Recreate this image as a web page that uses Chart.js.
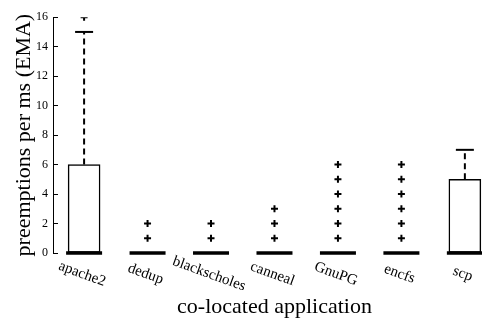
<!DOCTYPE html>
<html>
<head>
<meta charset="utf-8">
<script src="https://cdn.jsdelivr.net/npm/chart.js@4"></script>
<style>
  html, body { margin: 0; padding: 0; background: #fff; }
  #wrap { width: 482px; height: 320px; }
</style>
</head>
<body>
<div id="wrap"><canvas id="boxChart" width="482" height="320"></canvas></div>
<script>
// --- Chart data ---
const categories = ['apache2', 'dedup', 'blackscholes', 'canneal', 'GnuPG', 'encfs', 'scp'];
const boxLow = [0, 0, 0, 0, 0, 0, 0];
const boxHigh = [6, 0, 0, 0, 0, 0, 5];
const medians = [0, 0, 0, 0, 0, 0, 0];
const whiskerHigh = [15, 0, 0, 0, 0, 0, 7];
const outliers = [[16], [1, 2], [1, 2], [1, 2, 3], [1, 2, 3, 4, 5, 6], [1, 2, 3, 4, 5, 6], []];
const yTicks = [0, 2, 4, 6, 8, 10, 12, 14, 16];

const SERIF = '"Liberation Serif", "DejaVu Serif", serif';

document.addEventListener('DOMContentLoaded', () => {
    if (typeof Chart === 'undefined') {
        console.error('Chart.js failed to load.');
        return;
    }

    // category i sits at x = i + 1 on a linear axis
    const boxData = [];
    const medianData = [];
    const capData = [];
    const outlierData = [];
    const whiskerSets = [];

    categories.forEach((name, i) => {
        const x = i + 1;
        if (boxHigh[i] > boxLow[i]) boxData.push({ x, y: [boxLow[i], boxHigh[i]] });
        medianData.push({ x, y: medians[i] });
        if (whiskerHigh[i] > boxHigh[i]) {
            capData.push({ x, y: whiskerHigh[i] });
            whiskerSets.push({
                type: 'line',
                data: [{ x, y: boxHigh[i] }, { x, y: whiskerHigh[i] }],
                showLine: true,
                borderColor: '#000',
                borderWidth: 2,
                borderDash: [6, 4],
                pointRadius: 0,
                order: 3
            });
        }
        outliers[i].forEach(v => outlierData.push({ x, y: v }));
    });

    // --- x category labels and x title, placed with the x scale ---
    const categoryLabels = {
        id: 'categoryLabels',
        afterDraw(chart) {
            const { ctx, scales: { x } } = chart;
            ctx.save();
            ctx.fillStyle = '#000';
            ctx.font = '15px ' + SERIF;
            ctx.textAlign = 'center';
            ctx.textBaseline = 'middle';
            categories.forEach((name, i) => {
                ctx.save();
                ctx.translate(x.getPixelForValue(i + 1) - 2, 274);
                ctx.rotate(20 * Math.PI / 180);
                ctx.fillText(name, 0, 0);
                ctx.restore();
            });
            ctx.font = '22px ' + SERIF;
            ctx.textBaseline = 'alphabetic';
            const mid = (x.getPixelForValue(1) + x.getPixelForValue(categories.length)) / 2;
            ctx.fillText('co-located application', mid, 313);
            ctx.restore();
        }
    };

    new Chart(document.getElementById('boxChart').getContext('2d'), {
        type: 'scatter',
        data: {
            datasets: [
                {
                    label: 'outliers',
                    data: outlierData,
                    pointStyle: 'cross',
                    pointRadius: 3.5,
                    borderColor: '#000',
                    borderWidth: 2,
                    clip: { left: false, right: false, top: 0, bottom: false },
                    order: 0
                },
                {
                    label: 'median',
                    data: medianData,
                    pointStyle: 'line',
                    pointRadius: 18,
                    borderColor: '#000',
                    borderWidth: 3.5,
                    clip: false,
                    order: 1
                },
                {
                    label: 'caps',
                    data: capData,
                    pointStyle: 'line',
                    pointRadius: 9,
                    borderColor: '#000',
                    borderWidth: 2,
                    clip: false,
                    order: 2
                },
                ...whiskerSets,
                {
                    type: 'bar',
                    label: 'box',
                    data: boxData,
                    barThickness: 32,
                    backgroundColor: '#fff',
                    borderColor: '#000',
                    borderWidth: 1.5,
                    borderSkipped: false,
                    clip: false,
                    order: 4
                }
            ]
        },
        options: {
            responsive: false,
            animation: false,
            devicePixelRatio: 1,
            layout: { autoPadding: false, padding: { top: 12, right: 0, left: 0, bottom: 0 } },
            plugins: {
                legend: { display: false },
                tooltip: { enabled: false }
            },
            scales: {
                x: {
                    type: 'linear',
                    min: 0.51,
                    max: 7.27,
                    offset: false,
                    grid: { display: false },
                    border: { display: false },
                    ticks: { display: false },
                    afterFit: scale => { scale.height = 67; }
                },
                y: {
                    min: 0,
                    max: 16,
                    afterBuildTicks: scale => { scale.ticks = yTicks.map(v => ({ value: v })); },
                    grid: { drawOnChartArea: false, tickLength: -5, color: '#000', lineWidth: 1 },
                    border: { display: true, color: '#000', width: 1 },
                    ticks: { color: '#000', padding: 10, font: { family: SERIF, size: 12 } },
                    title: {
                        display: true,
                        text: 'preemptions per ms (EMA)',
                        color: '#000',
                        font: { family: SERIF, size: 22 },
                        padding: { top: 11, bottom: 0 }
                    },
                    afterFit: scale => { scale.width = 53; }
                }
            }
        },
        plugins: [categoryLabels]
    });
});
</script>
</body>
</html>
